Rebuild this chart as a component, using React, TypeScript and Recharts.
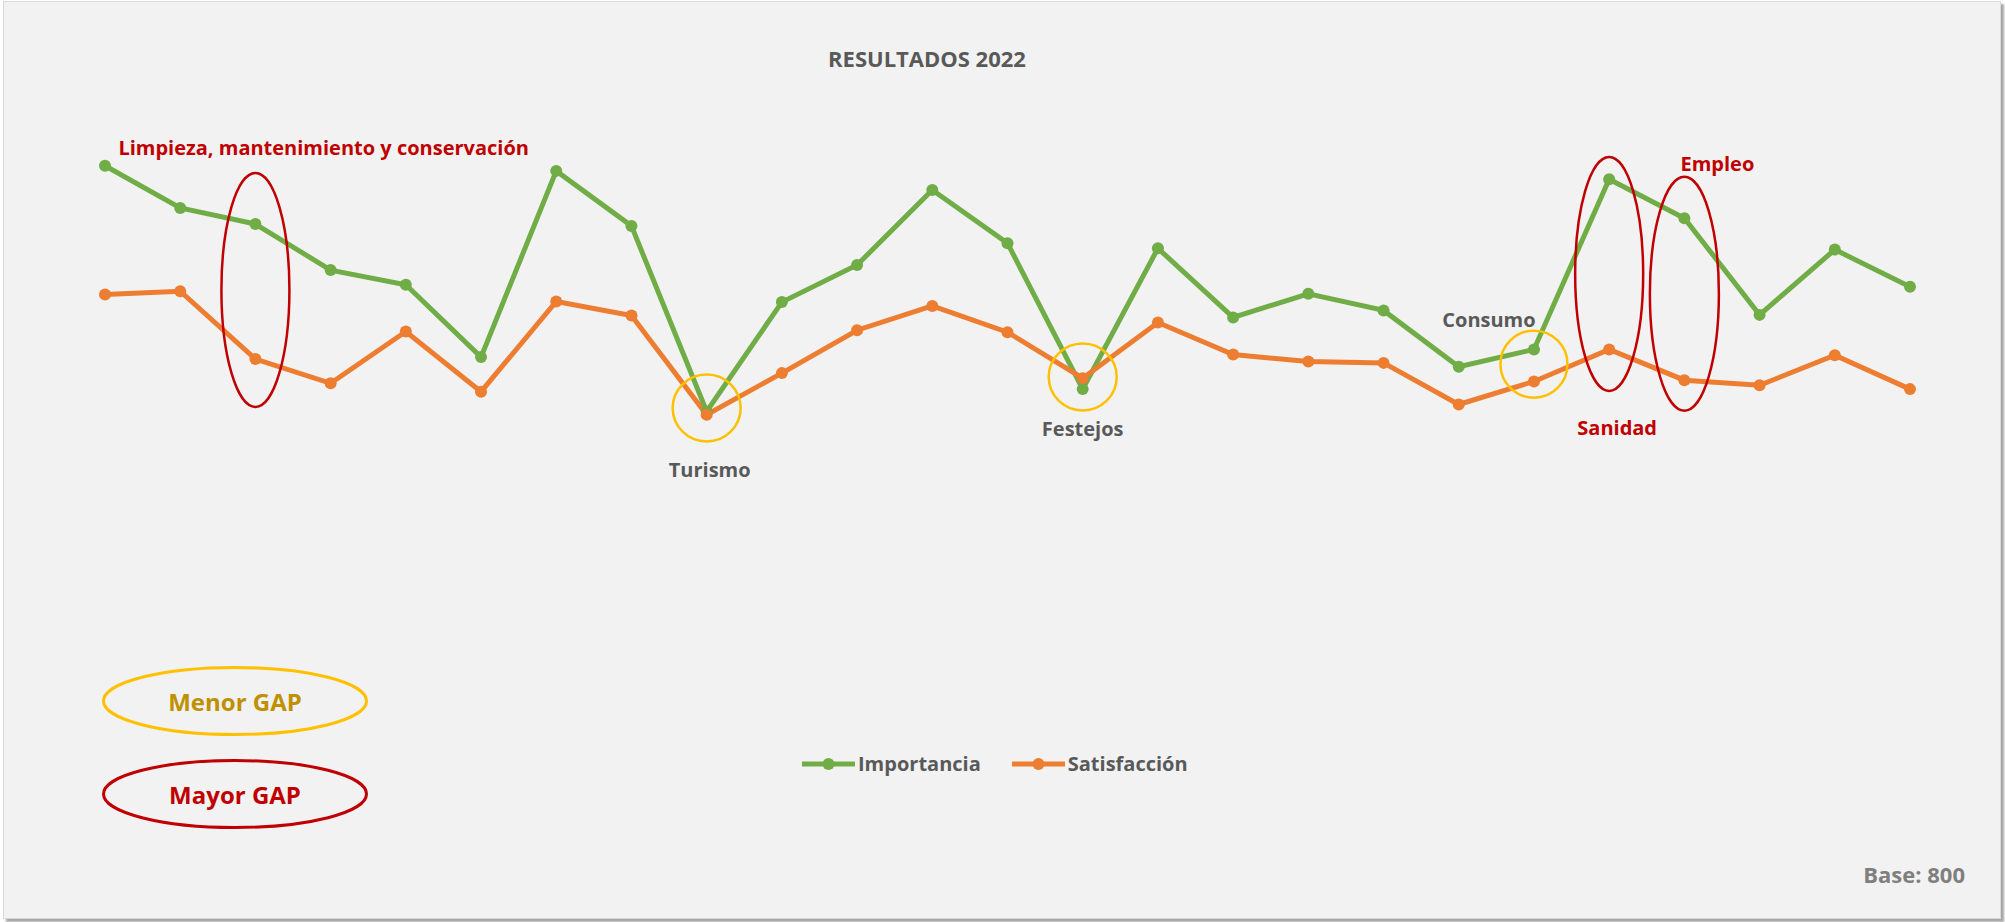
import React from 'react'
import { LineChart, Line, XAxis, YAxis, Legend, ReferenceDot } from 'recharts'

const FONT = "'Open Sans', 'DejaVu Sans', sans-serif"

// categorías (solo se conocen las señaladas en el gráfico)
const categorias = [
  'Área 1', 'Área 2', 'Limpieza, mantenimiento y conservación', 'Área 4', 'Área 5',
  'Área 6', 'Área 7', 'Área 8', 'Turismo', 'Área 10',
  'Área 11', 'Área 12', 'Área 13', 'Festejos', 'Área 15',
  'Área 16', 'Área 17', 'Área 18', 'Área 19', 'Consumo',
  'Sanidad', 'Empleo', 'Área 23', 'Área 24', 'Área 25',
]

const importancia = [
  8.66, 8.0, 7.75, 7.03, 6.8, 5.67, 8.58, 7.72, 4.82, 6.53,
  7.11, 8.28, 7.45, 5.17, 7.37, 6.29, 6.66, 6.4, 5.52, 5.79,
  8.45, 7.84, 6.33, 7.35, 6.77,
]

const satisfaccion = [
  6.65, 6.7, 5.64, 5.26, 6.07, 5.13, 6.54, 6.32, 4.77, 5.42,
  6.09, 6.47, 6.06, 5.34, 6.21, 5.71, 5.6, 5.58, 4.93, 5.29,
  5.79, 5.31, 5.23, 5.7, 5.17,
]

const data = categorias.map((c, i) => ({
  categoria: c,
  importancia: importancia[i],
  satisfaccion: satisfaccion[i],
}))

const ROJO = '#C00000'
const AMARILLO = '#FFC000'
const GRIS = '#595959'

// elipses de GAP sobre el gráfico
const marcas = [
  { categoria: categorias[2], valor: 6.72, rx: 34, ry: 117, color: ROJO, texto: 'Limpieza, mantenimiento y conservación', colorTexto: ROJO, dx: -137, dy: -142, anchor: 'start' },
  { categoria: categorias[8], valor: 4.875, rx: 34, ry: 33.5, color: AMARILLO, texto: 'Turismo', colorTexto: GRIS, dx: 3, dy: 61, anchor: 'middle' },
  { categoria: categorias[13], valor: 5.36, rx: 34, ry: 33.5, color: AMARILLO, texto: 'Festejos', colorTexto: GRIS, dx: 0, dy: 52, anchor: 'middle' },
  { categoria: categorias[19], valor: 5.56, rx: 33.5, ry: 33.5, color: AMARILLO, texto: 'Consumo', colorTexto: GRIS, dx: -45, dy: -45, anchor: 'middle' },
  { categoria: categorias[20], valor: 6.97, rx: 34, ry: 117, color: ROJO, texto: 'Sanidad', colorTexto: ROJO, dx: 8, dy: 154, anchor: 'middle' },
  { categoria: categorias[21], valor: 6.66, rx: 34.5, ry: 117, color: ROJO, texto: 'Empleo', colorTexto: ROJO, dx: 33, dy: -130, anchor: 'middle' },
]

function Marca({ cx, cy, m }: any) {
  if (cx == null || cy == null) return null
  return (
    <g>
      <ellipse cx={cx} cy={cy} rx={m.rx} ry={m.ry} fill="none" stroke={m.color} strokeWidth={2.5} />
      <text
        x={cx + m.dx}
        y={cy + m.dy}
        textAnchor={m.anchor}
        dominantBaseline="central"
        fill={m.colorTexto}
        style={{ fontFamily: FONT, fontWeight: 700, fontSize: 20 }}
      >
        {m.texto}
      </text>
    </g>
  )
}

function Leyenda(props: any) {
  const items = props.payload || []
  return (
    <div style={{ display: 'flex', alignItems: 'center', fontFamily: FONT, fontWeight: 700, fontSize: 20, color: GRIS }}>
      {items.map((e: any, i: number) => (
        <div key={i} style={{ display: 'flex', alignItems: 'center', marginRight: i === 0 ? 31 : 0 }}>
          <svg width={53} height={14}>
            <line x1={0} y1={7} x2={53} y2={7} stroke={e.color} strokeWidth={5} />
            <circle cx={26.5} cy={7} r={6} fill={e.color} />
          </svg>
          <span style={{ marginLeft: 3, lineHeight: '28px' }}>{e.value}</span>
        </div>
      ))}
    </div>
  )
}

export default function App() {
  return (
    <div style={{ position: 'absolute', left: 0, top: 0, width: 2005, height: 922, background: '#ffffff' }}>
      <div
        style={{
          position: 'absolute', left: 3, top: 1, width: 1996, height: 916,
          background: '#f2f2f2', border: '1px solid #d9d9d9',
          boxShadow: '3px 3px 2px #a6a6a6',
        }}
      />
      <div style={{ position: 'absolute', left: 0, top: 0 }}>
        <LineChart width={2005} height={922} data={data} margin={{ top: 80, right: 95, bottom: 202, left: 105 }}>
          <XAxis dataKey="categoria" hide />
          <YAxis domain={[0, 10]} hide />
          <Legend
            verticalAlign="middle"
            align="center"
            content={<Leyenda />}
            wrapperStyle={{ left: 802, top: 750, width: 420 }}
          />
          <Line
            type="linear"
            dataKey="importancia"
            name="Importancia"
            stroke="#70AD47"
            strokeWidth={5}
            dot={{ r: 6, fill: '#70AD47', stroke: '#70AD47', strokeWidth: 0 }}
            activeDot={false}
            isAnimationActive={false}
          />
          <Line
            type="linear"
            dataKey="satisfaccion"
            name="Satisfacción"
            stroke="#ED7D31"
            strokeWidth={5}
            dot={{ r: 6, fill: '#ED7D31', stroke: '#ED7D31', strokeWidth: 0 }}
            activeDot={false}
            isAnimationActive={false}
          />
          {marcas.map((m, i) => (
            <ReferenceDot
              key={i}
              x={m.categoria}
              y={m.valor}
              ifOverflow="visible"
              shape={(p: any) => <Marca {...p} m={m} />}
            />
          ))}
        </LineChart>
      </div>
      <svg width={2005} height={922} style={{ position: 'absolute', left: 0, top: 0, pointerEvents: 'none' }}>
        <text x={927} y={58} textAnchor="middle" dominantBaseline="central" fill={GRIS} style={{ fontFamily: FONT, fontWeight: 700, fontSize: 22 }}>
          RESULTADOS 2022
        </text>
        <ellipse cx={235} cy={701} rx={131.5} ry={33.5} fill="none" stroke={AMARILLO} strokeWidth={3} />
        <text x={235} y={701} textAnchor="middle" dominantBaseline="central" fill="#BF9000" style={{ fontFamily: FONT, fontWeight: 700, fontSize: 24 }}>
          Menor GAP
        </text>
        <ellipse cx={235} cy={794} rx={131.5} ry={33.5} fill="none" stroke={ROJO} strokeWidth={3} />
        <text x={235} y={794} textAnchor="middle" dominantBaseline="central" fill={ROJO} style={{ fontFamily: FONT, fontWeight: 700, fontSize: 24 }}>
          Mayor GAP
        </text>
        <text x={1965} y={874} textAnchor="end" dominantBaseline="central" fill="#7F7F7F" style={{ fontFamily: FONT, fontWeight: 700, fontSize: 22 }}>
          Base: 800
        </text>
      </svg>
    </div>
  )
}
